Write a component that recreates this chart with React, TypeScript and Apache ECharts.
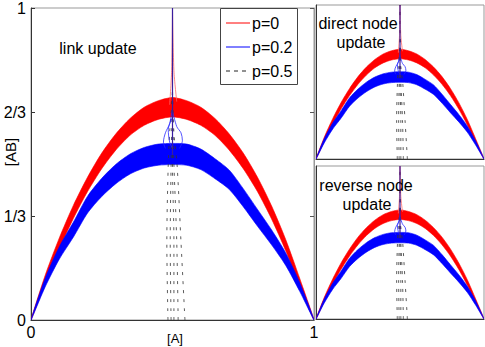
import React, { useEffect, useRef } from "react";
import * as echarts from "echarts";

// ---- data ----
const xs = [0, 0.05, 0.1, 0.15, 0.2, 0.25, 0.3, 0.35, 0.4, 0.45, 0.5, 0.55, 0.6, 0.65, 0.7, 0.75, 0.8, 0.85, 0.9, 0.95, 1];
const redMean = [0, 0.129, 0.245, 0.347, 0.435, 0.51, 0.571, 0.619, 0.653, 0.673, 0.682, 0.673, 0.653, 0.619, 0.571, 0.51, 0.435, 0.345, 0.24, 0.118, 0];
const redSpread = [0, 0.014, 0.018, 0.021, 0.023, 0.025, 0.026, 0.027, 0.029, 0.03, 0.031, 0.03, 0.029, 0.027, 0.026, 0.025, 0.023, 0.021, 0.018, 0.014, 0];
const blueMean = [0, 0.12, 0.215, 0.29, 0.37, 0.425, 0.468, 0.5, 0.52, 0.53, 0.532, 0.53, 0.515, 0.485, 0.45, 0.392, 0.328, 0.265, 0.195, 0.105, 0];
const blueSpread = [0, 0.014, 0.02, 0.024, 0.027, 0.029, 0.031, 0.032, 0.033, 0.034, 0.034, 0.034, 0.033, 0.032, 0.031, 0.029, 0.027, 0.024, 0.02, 0.014, 0];

// p=0.5 trajectories (dashed), collapsing to A = 1/2
const dashLines = [
  [[0.484, 0], [0.48, 0.25], [0.485, 0.5], [0.49, 0.6], [0.5, 0.75], [0.5, 1]],
  [[0.495, 0], [0.492, 0.25], [0.495, 0.5], [0.497, 0.6], [0.5, 0.75], [0.5, 1]],
  [[0.505, 0], [0.505, 0.25], [0.5, 0.5], [0.5, 0.6], [0.5, 1]],
  [[0.52, 0], [0.515, 0.25], [0.505, 0.5], [0.502, 0.6], [0.5, 0.75], [0.5, 1]],
  [[0.544, 0], [0.53, 0.25], [0.516, 0.5], [0.505, 0.6], [0.5, 0.75], [0.5, 1]],
];
// p=0.2 trajectories escaping to the fixed point
const blueLoops = [
  [[0.5, 0.68], [0.49, 0.63], [0.475, 0.6], [0.468, 0.57], [0.475, 0.55]],
  [[0.5, 0.67], [0.515, 0.62], [0.53, 0.6], [0.535, 0.575], [0.525, 0.55]],
  [[0.5, 0.65], [0.485, 0.61], [0.49, 0.57], [0.5, 0.55]],
];
const redSpikes = [
  [[0.49, 0.69], [0.497, 0.8], [0.5, 1]],
  [[0.515, 0.7], [0.505, 0.8], [0.5, 1]],
];
const spikeLine = [[0.5, 0.53], [0.5, 1]];

const yTickLabels = ["0", "1/3", "2/3", "1"];
const xTickLabels = ["0", "1"];
const seriesNames = ["p=0", "p=0.2", "p=0.5"];
const panelTitles = [["link update"], ["direct node", "update"], ["reverse node", "update"]];
const xAxisName = "[A]";
const yAxisName = "[AB]";

const FONT = "Liberation Sans, Arial, Helvetica, sans-serif";
const RED = "#ff0000";
const BLUE = "#0000ff";

function bandSeries(mean: number[], spread: number[], color: string, xi: number, yi: number) {
  const upper = xs.map((x, k) => [x, mean[k] + spread[k]]);
  const lower = xs.map((x, k) => [x, mean[k] - spread[k]]).slice(1, xs.length - 1).reverse();
  const pts = upper.concat(lower);
  return {
    type: "custom",
    coordinateSystem: "cartesian2d",
    xAxisIndex: xi,
    yAxisIndex: yi,
    data: [[0.5, 0.5]],
    clip: true,
    silent: true,
    renderItem: (_p: any, api: any) => ({
      type: "polygon",
      shape: { points: pts.map((p) => api.coord(p)), smooth: 0.25 },
      style: { fill: color, stroke: color, lineWidth: 0.6 },
    }),
  };
}

function lineSeries(data: number[][], color: string, xi: number, yi: number, width: number, dash?: number[]) {
  return {
    type: "line",
    xAxisIndex: xi,
    yAxisIndex: yi,
    data,
    symbol: "none",
    smooth: 0.3,
    silent: true,
    clip: true,
    lineStyle: { color, width, type: dash ? dash : "solid" },
  };
}

function panelSeries(xi: number, yi: number) {
  const s: any[] = [];
  s.push(bandSeries(redMean, redSpread, RED, xi, yi));
  s.push(bandSeries(blueMean, blueSpread, BLUE, xi, yi));
  dashLines.forEach((d) => s.push(lineSeries(d, "#333", xi, yi, 0.8, [3, 6])));
  blueLoops.forEach((d) => s.push(lineSeries(d, "#2a2aff", xi, yi, 0.8)));
  redSpikes.forEach((d) => s.push(lineSeries(d, "#ff6a6a", xi, yi, 0.8)));
  s.push(lineSeries(spikeLine, "#3a1e9e", xi, yi, 1.2));
  return s;
}

export default function App() {
  const ref = useRef<HTMLDivElement>(null);
  useEffect(() => {
    if (!ref.current) return;
    const chart = echarts.init(ref.current, undefined, { renderer: "svg" });
    const ySteps = yTickLabels.length - 1;
    const hiddenAxis = (gi: number, pos: string, color: string) => ({
      gridIndex: gi,
      type: "value",
      min: 0,
      max: 1,
      position: pos,
      axisLine: { show: true, lineStyle: { color, width: 1 } },
      axisTick: { show: false },
      axisLabel: { show: false },
      splitLine: { show: false },
    });
    const option: any = {
      animation: false,
      grid: [
        { left: 31, top: 5, width: 283, height: 315, show: true, borderColor: "#999", borderWidth: 1 },
        { left: 316, top: 5, width: 168, height: 154, show: true, borderColor: "#999", borderWidth: 1 },
        { left: 316, top: 166, width: 168, height: 153, show: true, borderColor: "#999", borderWidth: 1 },
      ],
      xAxis: [
        {
          gridIndex: 0,
          type: "value",
          min: 0,
          max: 1,
          interval: 1,
          axisLine: { show: true, lineStyle: { color: "#333", width: 1 } },
          axisTick: { show: false },
          axisLabel: {
            formatter: (v: number) => xTickLabels[Math.round(v)],
            fontSize: 16,
            fontFamily: FONT,
            color: "#000",
            margin: 4,
          },
          splitLine: { show: false },
        },
        hiddenAxis(1, "bottom", "#333"),
        hiddenAxis(2, "bottom", "#333"),
      ],
      yAxis: [
        {
          gridIndex: 0,
          type: "value",
          min: 0,
          max: 1,
          interval: 1 / 3,
          axisLine: { show: true, lineStyle: { color: "#333", width: 1 } },
          axisTick: { show: true, inside: true, length: 4, lineStyle: { color: "#333" } },
          axisLabel: {
            formatter: (v: number) => yTickLabels[Math.round(v * ySteps)],
            fontSize: 16,
            fontFamily: FONT,
            color: "#000",
            margin: 5,
          },
          splitLine: { show: false },
        },
        {
          gridIndex: 0,
          type: "value",
          min: 0,
          max: 1,
          interval: 1 / 3,
          position: "right",
          axisLine: { show: true, lineStyle: { color: "#999", width: 1 } },
          axisTick: { show: true, inside: true, length: 4, lineStyle: { color: "#555" } },
          axisLabel: { show: false },
          splitLine: { show: false },
        },
        hiddenAxis(1, "left", "#333"),
        hiddenAxis(2, "left", "#333"),
      ],
      series: [...panelSeries(0, 0), ...panelSeries(1, 2), ...panelSeries(2, 3)],
      graphic: [
        { type: "text", x: 98, y: 48, z: 100, style: { text: panelTitles[0][0], fontSize: 16, fontFamily: FONT, fill: "#000", align: "center", verticalAlign: "middle" } },
        { type: "text", x: 358, y: 23, z: 100, style: { text: panelTitles[1][0], fontSize: 16, fontFamily: FONT, fill: "#000", align: "center", verticalAlign: "middle" } },
        { type: "text", x: 361, y: 42, z: 100, style: { text: panelTitles[1][1], fontSize: 16, fontFamily: FONT, fill: "#000", align: "center", verticalAlign: "middle" } },
        { type: "text", x: 366, y: 185, z: 100, style: { text: panelTitles[2][0], fontSize: 16, fontFamily: FONT, fill: "#000", align: "center", verticalAlign: "middle" } },
        { type: "text", x: 367, y: 204, z: 100, style: { text: panelTitles[2][1], fontSize: 16, fontFamily: FONT, fill: "#000", align: "center", verticalAlign: "middle" } },
        { type: "text", x: 175, y: 338, z: 100, style: { text: xAxisName, fontSize: 13, fontFamily: FONT, fill: "#000", align: "center", verticalAlign: "middle" } },
        { type: "text", x: 10, y: 152, rotation: Math.PI / 2, z: 100, style: { text: yAxisName, fontSize: 15, fontFamily: FONT, fill: "#000", align: "center", verticalAlign: "middle" } },
        // legend
        { type: "rect", z: 100, shape: { x: 220.5, y: 8.5, width: 77, height: 76 }, style: { fill: "#fff", stroke: "#444", lineWidth: 1 } },
        { type: "line", z: 101, shape: { x1: 226, y1: 23, x2: 250, y2: 23 }, style: { stroke: RED, lineWidth: 1 } },
        { type: "line", z: 101, shape: { x1: 226, y1: 47, x2: 250, y2: 47 }, style: { stroke: BLUE, lineWidth: 1 } },
        { type: "line", z: 101, shape: { x1: 226, y1: 71, x2: 250, y2: 71 }, style: { stroke: "#222", lineWidth: 1, lineDash: [4, 4] } },
        { type: "text", x: 252, y: 23, z: 101, style: { text: seriesNames[0], fontSize: 16, fontFamily: FONT, fill: "#000", align: "left", verticalAlign: "middle" } },
        { type: "text", x: 252, y: 47, z: 101, style: { text: seriesNames[1], fontSize: 16, fontFamily: FONT, fill: "#000", align: "left", verticalAlign: "middle" } },
        { type: "text", x: 252, y: 71, z: 101, style: { text: seriesNames[2], fontSize: 16, fontFamily: FONT, fill: "#000", align: "left", verticalAlign: "middle" } },
      ],
    };
    chart.setOption(option);
    return () => chart.dispose();
  }, []);
  return (
    <div
      ref={ref}
      style={{ position: "fixed", left: 0, top: 0, width: 485, height: 347, background: "#fff" }}
    />
  );
}
